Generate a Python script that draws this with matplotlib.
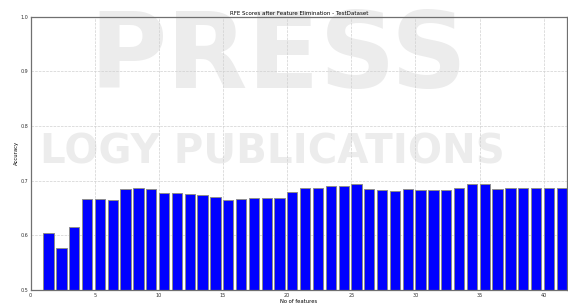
import matplotlib
matplotlib.use("Agg")
import matplotlib.pyplot as plt

# RFE accuracy for each number of kept features
n_features = list(range(1, 42))
scores = [
    0.604, 0.577, 0.616, 0.667, 0.666, 0.665, 0.685, 0.686, 0.685, 0.677,
    0.677, 0.676, 0.673, 0.671, 0.665, 0.667, 0.668, 0.668, 0.668, 0.680,
    0.686, 0.686, 0.691, 0.691, 0.693, 0.684, 0.683, 0.681, 0.685, 0.682,
    0.682, 0.683, 0.687, 0.694, 0.694, 0.685, 0.687, 0.687, 0.687, 0.687,
    0.687,
]
x_ticks = [0, 5, 10, 15, 20, 25, 30, 35, 40]
y_ticks = [0.5, 0.6, 0.7, 0.8, 0.9, 1.0]

fig = plt.figure(figsize=(5.68, 3.03), dpi=100, facecolor="white")

# faint publisher watermark behind the chart
wm = "#ececec"
fig.text(0.49, 0.71, "PRESS", fontsize=76, fontweight="bold", color=wm,
         ha="center", va="baseline", zorder=-1)
fig.text(0.48, 0.462, "LOGY PUBLICATIONS", fontsize=29, fontweight="bold",
         color=wm, ha="center", va="baseline", zorder=-1)

ax = fig.add_axes([0.054, 0.043, 0.944, 0.902])
ax.patch.set_alpha(0)

ax.bar(n_features, scores, width=0.8, align="edge", color="#0000ff",
       edgecolor="#8c8c8c", linewidth=0.7)

ax.set_xlim(0, 41.8)
ax.set_ylim(0.5, 1.0)
ax.set_xticks(x_ticks)
ax.set_yticks(y_ticks)
ax.set_yticklabels([f"{v:.1f}" for v in y_ticks])

ax.set_axisbelow(True)
ax.grid(True, color="#d0d0d0", linestyle="--", linewidth=0.5)

for sp in ax.spines.values():
    sp.set_color("#707070")
    sp.set_linewidth(0.9)

ax.tick_params(labelsize=3.5, length=0, pad=2, colors="#333333")
ax.set_title("RFE Scores after Feature Elimination - TestDataset",
             fontsize=4, pad=1.5)
ax.set_xlabel("No of features", fontsize=3.8, labelpad=1)
ax.set_ylabel("Accuracy", fontsize=3.8, labelpad=1)

fig.savefig("out.png", dpi=100, facecolor="white")
